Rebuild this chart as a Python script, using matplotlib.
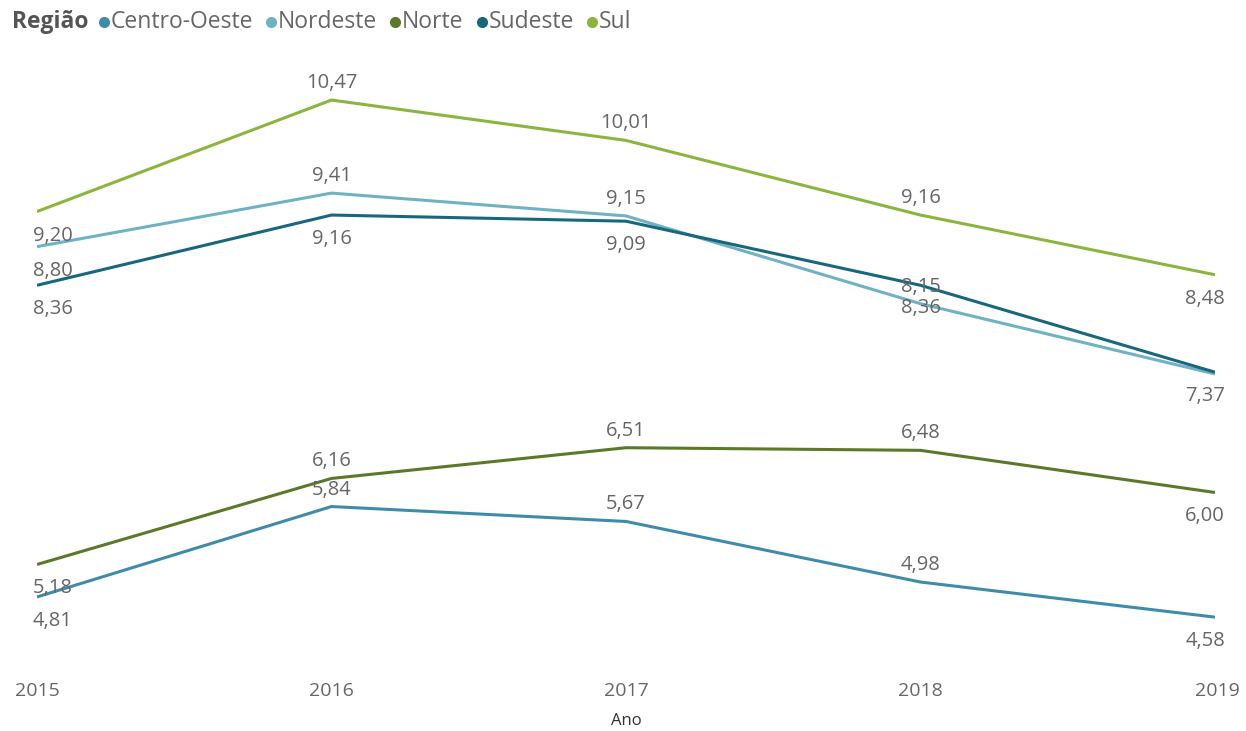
import matplotlib
matplotlib.use("Agg")
import matplotlib.pyplot as plt
from matplotlib.lines import Line2D
import matplotlib.transforms as mtransforms

plt.rcParams['font.family'] = ['Open Sans', 'DejaVu Sans']

anos = [2015, 2016, 2017, 2018, 2019]
centro_oeste = [4.81, 5.84, 5.67, 4.98, 4.58]
nordeste = [8.80, 9.41, 9.15, 8.15, 7.35]
norte = [5.18, 6.16, 6.51, 6.48, 6.00]
sudeste = [8.36, 9.16, 9.09, 8.36, 7.37]
sul = [9.20, 10.47, 10.01, 9.16, 8.48]

regioes = ["Centro-Oeste", "Nordeste", "Norte", "Sudeste", "Sul"]
cores = {"Centro-Oeste": "#3f8caa", "Nordeste": "#6fb2c4", "Norte": "#5a7a2a",
         "Sudeste": "#17687c", "Sul": "#8ab63e"}
series = {"Centro-Oeste": centro_oeste, "Nordeste": nordeste, "Norte": norte,
          "Sudeste": sudeste, "Sul": sul}

# label placement: +1 above, -1 below, 0 hidden
pos = {
    "Sul": [-1, 1, 1, 1, -1],
    "Nordeste": [-1, 1, 1, 1, 0],
    "Sudeste": [-1, -1, -1, -1, -1],
    "Norte": [-1, 1, 1, 1, -1],
    "Centro-Oeste": [-1, 1, 1, 1, -1],
}

W, H = 1246, 731
fig = plt.figure(figsize=(W / 100, H / 100), dpi=100)
ax = fig.add_axes([37 / W, (H - 660) / H, (1215 - 37) / W, 600 / H])
ax.set_xlim(2015, 2019)
ax.set_ylim(4.092, 10.926)

for r in regioes:
    ax.plot(anos, series[r], color=cores[r], lw=2.2, solid_capstyle='butt', zorder=3)

label_color = "#666666"
for r in regioes:
    for i, (x, y) in enumerate(zip(anos, series[r])):
        p = pos[r][i]
        if p == 0:
            continue
        txt = f"{y:.2f}".replace(".", ",")
        dx = 0
        ha = 'center'
        if i == 0:
            ha = 'left'; dx = -4
        elif i == len(anos) - 1:
            ha = 'right'; dx = 10
        dy = 17 if p > 0 else -24
        # overlapping labels at 2018 (Nordeste/Sudeste), as in the reference
        if r == "Nordeste" and i == 3:
            dy = 17
        if r == "Sudeste" and i == 3:
            dy = -23
        ax.annotate(txt, (x, y), xytext=(dx, dy), textcoords='offset pixels',
                    ha=ha, va='center', fontsize=14.5, color=label_color, zorder=4)

for s in ax.spines.values():
    s.set_visible(False)
ax.set_yticks([])
ax.set_xticks(anos)
ax.set_xticklabels([str(a) for a in anos], fontsize=14, color="#666666")
ax.tick_params(axis='x', length=0, pad=16)
labs = ax.get_xticklabels()
labs[0].set_ha('left')
labs[0].set_transform(labs[0].get_transform() + mtransforms.ScaledTranslation(-0.22, 0, fig.dpi_scale_trans))
labs[-1].set_ha('right')
labs[-1].set_transform(labs[-1].get_transform() + mtransforms.ScaledTranslation(0.25, 0, fig.dpi_scale_trans))
ax.set_xlabel("Ano", fontsize=12, color="#333333", labelpad=9)

# legend (manual, horizontal)
fig.canvas.draw()
renderer = fig.canvas.get_renderer()
ylg = 1 - 22 / H
xcur = 12 / W
t = fig.text(xcur, ylg, "Região", fontsize=16.5, fontweight='bold', color="#555555", va='center', ha='left')
bb = t.get_window_extent(renderer)
xcur = (bb.x1 + 15) / W
for r in regioes:
    fig.lines.append(Line2D([xcur], [ylg], marker='o', markersize=7, color=cores[r],
                            transform=fig.transFigure, linestyle='none'))
    t = fig.text(xcur + 7 / W, ylg, r, fontsize=16.5, color="#666666", va='center', ha='left')
    bb = t.get_window_extent(renderer)
    xcur = (bb.x1 + 18) / W

fig.savefig("out.png", dpi=100, facecolor='white')
